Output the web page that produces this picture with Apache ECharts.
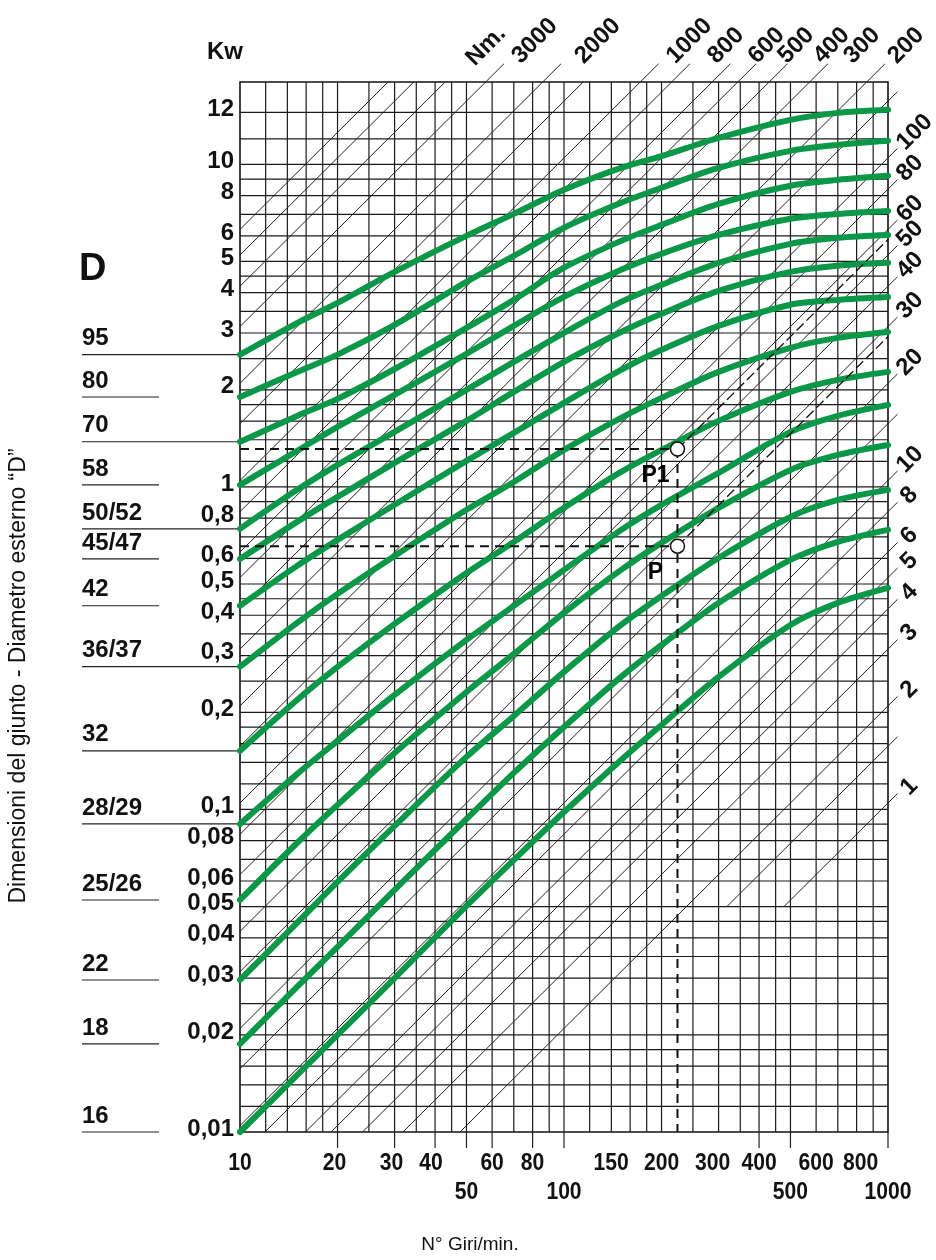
<!DOCTYPE html>
<html><head><meta charset="utf-8">
<script src="https://cdn.jsdelivr.net/npm/echarts@6.0.0/dist/echarts.min.js"></script>
<style>html,body{margin:0;padding:0;background:#fff;}#chart{width:936px;height:1260px;}</style>
</head><body><div id="chart"></div>
<script>
// ---------------- data ----------------
const rpm = [10, 15, 20, 30, 50, 70, 100, 150, 200, 300, 500, 700, 1000];
const kw_95    = [2.57, 3.22, 3.72, 4.64, 6.00, 7.02, 8.34, 9.75, 10.6, 12.08, 13.74, 14.44, 14.76];
const kw_80    = [1.90, 2.27, 2.57, 3.18, 4.32, 5.20, 6.36, 7.60, 8.46, 9.75, 11.01, 11.49, 11.83];
const kw_70    = [1.38, 1.66, 1.875, 2.32, 3.11, 3.80, 4.78, 5.79, 6.49, 7.54, 8.58, 8.95, 9.21];
const kw_58    = [1.014, 1.293, 1.535, 1.929, 2.585, 3.157, 3.88, 4.71, 5.28, 6.04, 6.78, 7.02, 7.17];
const kw_50_52 = [0.741, 0.979, 1.170, 1.481, 2.000, 2.441, 3.003, 3.746, 4.23, 4.95, 5.67, 5.92, 6.04];
const kw_45_47 = [0.598, 0.779, 0.931, 1.187, 1.602, 1.970, 2.441, 3.02, 3.44, 4.05, 4.64, 4.85, 4.95];
const kw_42    = [0.428, 0.569, 0.685, 0.880, 1.204, 1.470, 1.822, 2.306, 2.66, 3.157, 3.67, 3.80, 3.88];
const kw_36_37 = [0.277, 0.379, 0.466, 0.611, 0.849, 1.036, 1.302, 1.637, 1.888, 2.273, 2.698, 2.897, 3.02];
const kw_32    = [0.152, 0.2185, 0.2766, 0.376, 0.541, 0.675, 0.861, 1.113, 1.302, 1.602, 1.970, 2.147, 2.273];
const kw_28_29 = [0.0902, 0.1288, 0.1631, 0.2265, 0.3354, 0.4276, 0.5528, 0.7356, 0.880, 1.105, 1.481, 1.661, 1.796];
const kw_25_26 = [0.0524, 0.0787, 0.1033, 0.1497, 0.2313, 0.3035, 0.4068, 0.5528, 0.6705, 0.861, 1.129, 1.256, 1.349];
const kw_22    = [0.0296, 0.0445, 0.0596, 0.0889, 0.1455, 0.1950, 0.2670, 0.3733, 0.4592, 0.6022, 0.807, 0.911, 0.979];
const kw_18    = [0.01875, 0.0282, 0.0375, 0.0563, 0.0934, 0.1298, 0.1802, 0.2576, 0.3236, 0.4368, 0.5937, 0.6753, 0.7356];
const kw_16    = [0.0100, 0.0150, 0.0200, 0.0300, 0.0502, 0.0697, 0.0982, 0.1424, 0.1828, 0.2576, 0.3733, 0.4368, 0.4862];

const sizeNames = ['95', '80', '70', '58', '50/52', '45/47', '42', '36/37', '32', '28/29', '25/26', '22', '18', '16'];
const sizeRuleToAxis = [1, 0, 1, 0, 1, 0, 0, 1, 1, 1, 0, 0, 0, 0];

const torqueNm = [1, 1.5, 2, 3, 4, 5, 6, 8, 10, 15, 20, 30, 40, 50, 60, 80, 100, 150, 200, 300, 400, 500, 600, 800, 1000, 1500, 2000, 3000, 4000, 5000, 6000];
const torqueTopLabels = [3000, 2000, 1000, 800, 600, 500, 400, 300, 200];
const torqueRightLabels = [100, 80, 60, 50, 40, 30, 20, 10, 8, 6, 5, 4, 3, 2, 1];

const xTickRow1 = [10, 20, 30, 40, 60, 80, 150, 200, 300, 400, 600, 800];
const xTickRow2 = [50, 100, 500, 1000];
const xTickMarks = [20, 30, 40, 50, 60, 80, 100, 400, 500, 1000];
const yTickValues = [0.01, 0.02, 0.03, 0.04, 0.05, 0.06, 0.08, 0.1, 0.2, 0.3, 0.4, 0.5, 0.6, 0.8, 1, 2, 3, 4, 5, 6, 8, 10, 14.5];
const yTickTexts = ['0,01', '0,02', '0,03', '0,04', '0,05', '0,06', '0,08', '0,1', '0,2', '0,3', '0,4', '0,5', '0,6', '0,8', '1', '2', '3', '4', '5', '6', '8', '10', '12'];

const xGrid = [12, 14, 16, 18, 20, 25, 30, 35, 40, 45, 50, 60, 70, 80, 90, 100, 120, 140, 160, 180, 200, 250, 300, 350, 400, 450, 500, 600, 700, 800, 900];
const yGrid = [0.012, 0.014, 0.016, 0.018, 0.02, 0.025, 0.03, 0.035, 0.04, 0.045, 0.05, 0.06, 0.07, 0.08, 0.09,
               0.1, 0.12, 0.14, 0.16, 0.18, 0.2, 0.25, 0.3, 0.35, 0.4, 0.45, 0.5, 0.6, 0.7, 0.8, 0.9,
               1, 1.2, 1.4, 1.6, 1.8, 2, 2.5, 3, 3.5, 4, 4.5, 5, 6, 7, 8, 9, 10, 12, 14.5];

const exampleRpm = 224;
const exampleP = 0.655;
const exampleP1 = 1.31;

// ---------------- chart ----------------
const curves = [kw_95, kw_80, kw_70, kw_58, kw_50_52, kw_45_47, kw_42, kw_36_37, kw_32, kw_28_29, kw_25_26, kw_22, kw_18, kw_16];
const X_MIN = 10, X_MAX = 1000, Y_MIN = 0.01, Y_MAX = 18;
const K = 9550, TOP_EXT = 20.5, RIGHT_EXT = 1070;
const FONT = '"Liberation Sans", Arial, Helvetica, sans-serif';
const GREEN = '#0a9748';
const INK = '#111';
const LABEL_SIZE = 24;
// horizontal nudges (px) for hand-placed labels
const topLabelNudge = { 3000: 5, 2000: 11, 1000: 5, 800: 15, 600: 15, 500: 19, 400: 23, 300: 13, 200: 0 };
const xLabelNudge = { 20: -3, 30: -3, 40: -4, 150: -10, 300: -6, 800: 4 };

function seg(a, b, style) {
  return { type: 'line', shape: { x1: a[0], y1: a[1], x2: b[0], y2: b[1] }, style: style };
}
function txt(x, y, text, size, weight, align, vAlign, rotation, sx) {
  return { type: 'text', x: x, y: y, rotation: rotation || 0, scaleX: sx || 1,
    style: { text: text, fontSize: size, fontWeight: weight, fontFamily: FONT, fill: INK, align: align, verticalAlign: vAlign } };
}

const series = [];

// grid lines
series.push({
  type: 'custom', silent: true, clip: false, z: 1,
  data: xGrid.map(v => [v, 1]),
  renderItem: (p, api) => seg(api.coord([api.value(0), Y_MIN]), api.coord([api.value(0), Y_MAX]), { stroke: '#1a1a1a', lineWidth: 1.2 })
});
series.push({
  type: 'custom', silent: true, clip: false, z: 1,
  data: yGrid.map(v => [100, v]),
  renderItem: (p, api) => seg(api.coord([X_MIN, api.value(1)]), api.coord([X_MAX, api.value(1)]), { stroke: '#1a1a1a', lineWidth: 1.2 })
});

// constant torque diagonals
series.push({
  type: 'custom', silent: true, clip: false, z: 2,
  data: torqueNm.map(t => [100, 1, t]),
  renderItem: (p, api) => {
    const T = api.value(2);
    const floor = T < 2 ? 0.05 : Y_MIN;
    const a = (K * floor / T) < X_MIN ? [X_MIN, T * X_MIN / K] : [K * floor / T, floor];
    let b, ext = null, top = false;
    const nTop = K * Y_MAX / T;
    if (nTop <= X_MAX) {
      b = [nTop, Y_MAX];
      if (torqueTopLabels.includes(T)) { ext = [K * TOP_EXT / T, TOP_EXT]; top = true; }
    } else {
      b = [X_MAX, T * X_MAX / K];
      ext = [RIGHT_EXT, T * RIGHT_EXT / K];
    }
    const pa = api.coord(a), pb = api.coord(ext || b);
    const ch = [seg(pa, pb, { stroke: '#222', lineWidth: 1 })];
    if (torqueTopLabels.includes(T) || torqueRightLabels.includes(T)) {
      const dx = top ? 7 + (topLabelNudge[T] || 0) : (T < 10 ? 7 : 3), dy = top ? -4 : -2;
      ch.push(txt(pb[0] + dx, pb[1] + dy, String(T), LABEL_SIZE, 'bold', 'left', 'middle', Math.PI / 4));
    }
    return { type: 'group', children: ch };
  }
});

// y tick labels
series.push({
  type: 'custom', silent: true, clip: false, z: 5,
  data: yTickValues.map((v, i) => [X_MIN, v, i]),
  renderItem: (p, api) => {
    const c = api.coord([X_MIN, api.value(1)]);
    return txt(c[0] - 6, c[1] - 3, yTickTexts[api.value(2)], LABEL_SIZE, 'bold', 'right', 'middle');
  }
});
// x tick labels (slightly condensed, like the original lettering)
series.push({
  type: 'custom', silent: true, clip: false, z: 5,
  data: xTickRow1.map(v => [v, Y_MIN, 0]).concat(xTickRow2.map(v => [v, Y_MIN, 1])),
  renderItem: (p, api) => {
    const v = api.value(0);
    const c = api.coord([v, Y_MIN]);
    return txt(c[0] + (xLabelNudge[v] || 0), c[1] + (api.value(2) ? 60 : 31), String(v), LABEL_SIZE, 'bold', 'center', 'middle', 0, 0.88);
  }
});
// x tick marks under the frame
series.push({
  type: 'custom', silent: true, clip: false, z: 5,
  data: xTickMarks.map(v => [v, Y_MIN]),
  renderItem: (p, api) => {
    const c = api.coord([api.value(0), Y_MIN]);
    return seg(c, [c[0], c[1] + 16], { stroke: '#222', lineWidth: 1.2 });
  }
});
// coupling size labels (D)
series.push({
  type: 'custom', silent: true, clip: false, z: 5,
  data: curves.map((c, i) => [X_MIN, c[0], i]),
  renderItem: (p, api) => {
    const i = api.value(2);
    const c = api.coord([X_MIN, api.value(1)]);
    const xEnd = sizeRuleToAxis[i] ? c[0] - 2 : 159;
    return { type: 'group', children: [
      seg([82, c[1]], [xEnd, c[1]], { stroke: '#222', lineWidth: 1.2 }),
      txt(82, c[1] - 16, sizeNames[i], LABEL_SIZE, 'bold', 'left', 'middle')
    ] };
  }
});

// green capacity curves
curves.forEach((arr, i) => {
  series.push({
    type: 'line', name: 'D ' + sizeNames[i], z: 10, clip: false,
    data: rpm.map((n, j) => [n, arr[j]]),
    smooth: 0.3, showSymbol: false, symbol: 'none', silent: true,
    lineStyle: { color: GREEN, width: 6, cap: 'round', join: 'round' }
  });
});

// example selection (P, P1)
const dashThick = { color: '#111', width: 2, type: [9, 6] };
const dashThin = { color: '#111', width: 1.3, type: [10, 4] };
[
  [[[X_MIN, exampleP1], [exampleRpm, exampleP1]], dashThick],
  [[[X_MIN, exampleP], [exampleRpm, exampleP]], dashThick],
  [[[exampleRpm, exampleP1], [exampleRpm, Y_MIN]], dashThick],
  [[[exampleRpm, exampleP1], [X_MAX, exampleP1 * X_MAX / exampleRpm]], dashThin],
  [[[exampleRpm, exampleP], [X_MAX, exampleP * X_MAX / exampleRpm]], dashThin]
].forEach(d => series.push({ type: 'line', z: 12, data: d[0], showSymbol: false, symbol: 'none', silent: true, lineStyle: d[1] }));

series.push({
  type: 'scatter', z: 14, silent: true,
  data: [[exampleRpm, exampleP1, 'P1'], [exampleRpm, exampleP, 'P']],
  symbol: 'circle', symbolSize: 14,
  itemStyle: { color: '#fff', borderColor: '#111', borderWidth: 1.5, opacity: 1 },
  label: { show: true, formatter: p => p.value[2], position: 'bottom', offset: [-22, 2],
    fontSize: 23, fontWeight: 'bold', fontFamily: FONT, color: '#000', textBorderWidth: 0, opacity: 1 }
});

const chart = echarts.init(document.getElementById('chart'), null, { renderer: 'canvas' });
chart.setOption({
  animation: false,
  backgroundColor: '#fff',
  grid: { left: 240, right: 48, top: 82, bottom: 128, show: true, borderColor: '#111', borderWidth: 1.6, backgroundColor: 'transparent' },
  xAxis: { type: 'log', logBase: 10, min: X_MIN, max: X_MAX, show: false },
  yAxis: { type: 'log', logBase: 10, min: Y_MIN, max: Y_MAX, show: false },
  graphic: [
    { type: 'text', left: 207, top: 40, style: { text: 'Kw', fontSize: 24, fontWeight: 'bold', fontFamily: FONT, fill: INK } },
    { type: 'text', left: 79, top: 251, style: { text: 'D', fontSize: 38, fontWeight: 'bold', fontFamily: FONT, fill: INK } },
    { type: 'text', x: 470, y: 62, rotation: Math.PI / 4, style: { text: 'Nm.', fontSize: LABEL_SIZE, fontWeight: 'bold', fontFamily: FONT, fill: INK, align: 'left', verticalAlign: 'middle' } },
    { type: 'text', x: 470, y: 1245, style: { text: 'N° Giri/min.', fontSize: 19, fontFamily: FONT, fill: INK, align: 'center', verticalAlign: 'middle' } },
    { type: 'text', x: 19, y: 676, rotation: Math.PI / 2, style: { text: 'Dimensioni del giunto - Diametro esterno “D”', fontSize: 23, fontFamily: FONT, fill: INK, align: 'center', verticalAlign: 'middle' } }
  ],
  series: series
});
</script>
</body></html>
